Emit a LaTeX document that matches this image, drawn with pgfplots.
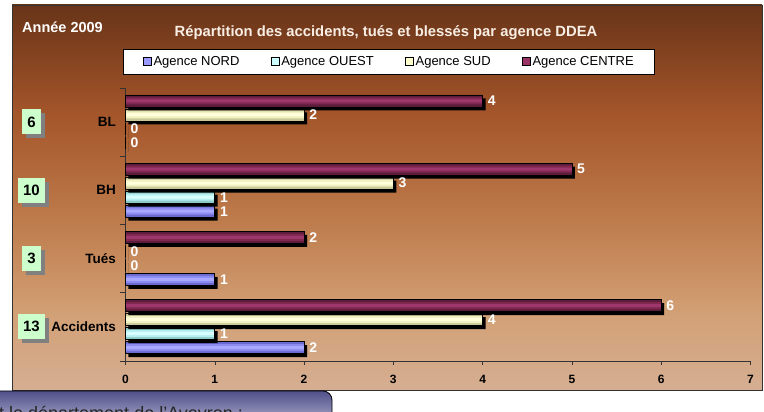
\documentclass[border=0pt]{standalone}
\usepackage{fontspec}
\setmainfont{Liberation Sans}
\usepackage{pgfplots}
\usepackage{pgfplotstable}
\pgfplotsset{compat=1.18}
\definecolor{nordD}{HTML}{6A6AD0}\definecolor{nordM}{HTML}{8C8CF0}\definecolor{nordL}{HTML}{A8A8FF}
\definecolor{ouestD}{HTML}{8CCACA}\definecolor{ouestM}{HTML}{B8F0F0}\definecolor{ouestL}{HTML}{D8FFFF}
\definecolor{sudD}{HTML}{C8C898}\definecolor{sudM}{HTML}{F0F0C0}\definecolor{sudL}{HTML}{FFFFDC}
\definecolor{centreD}{HTML}{5E1C3C}\definecolor{centreM}{HTML}{80284F}\definecolor{centreL}{HTML}{9E386C}
\definecolor{nord}{HTML}{9999FF}\definecolor{ouest}{HTML}{CCFFFF}
\definecolor{sud}{HTML}{FFFFCC}\definecolor{centre}{HTML}{993366}
\definecolor{bg1}{HTML}{D5AE92}\definecolor{bg2}{HTML}{D2A075}
\definecolor{bg3}{HTML}{BD7A4A}\definecolor{bg4}{HTML}{A4552A}
\definecolor{bg5}{HTML}{683418}
\definecolor{boxT}{HTML}{50508A}\definecolor{boxB}{HTML}{C4C4DE}
\definecolor{titlecol}{HTML}{F8EEE4}
\pgfdeclareverticalshading{bgshade}{100bp}{color(0bp)=(bg1); color(25bp)=(bg1); color(35bp)=(bg2); color(47.5bp)=(bg3); color(61bp)=(bg4); color(75bp)=(bg5); color(100bp)=(bg5)}
\pgfplotstableread{
cat NORD OUEST SUD CENTRE
0 2 1 4 6
1 1 0 0 2
2 1 1 3 5
3 0 0 2 4
}\datatab
\begin{document}
\begin{tikzpicture}[x=1pt,y=1pt]
\useasboundingbox (0,0) rectangle (764,412);
\fill[white] (0,0) rectangle (764,412);
\shade[shading=bgshade] (12,22) rectangle (762,407);
\draw[line width=0.8pt, color=black!80] (12,22) rectangle (762,407);
\shade[top color=boxT, bottom color=boxB, rounded corners=9pt] (-10,-20) rectangle (332,21);
\draw[line width=0.8pt, black, rounded corners=9pt] (-10,-20) rectangle (332,21);
\node[anchor=base west, font=\fontsize{18}{20}\selectfont, text=black!85, inner sep=0pt] at (-1,-8) {t le département de l'Aveyron :};
\node[anchor=west, font=\bfseries\fontsize{14.5}{16}\selectfont, text=white, inner sep=0pt] at (22,384.5) {Année 2009};
\node[font=\bfseries\fontsize{14.8}{16}\selectfont, text=titlecol, inner sep=0pt] at (386,379.5) {Répartition des accidents, tués et blessés par agence DDEA};
\begin{axis}[
  at={(140.5,75)}, anchor=south west,
  scale only axis, width=625pt, height=273pt,
  xmin=0, xmax=7, ymin=-0.5, ymax=3.5,
  axis x line=bottom, axis y line=left,
  axis line style={-, draw=black!80, line width=0.6pt},
  xtick={0,...,7}, tick align=outside, major tick length=4pt,
  xtick style={draw=black!80},
  ytick={0,1,2,3}, yticklabels={Accidents,Tués,BH,BL},
  major y tick style={draw=none},
  minor ytick={-0.5,0.5,1.5,2.5,3.5}, minor tick length=5pt,
  minor y tick style={draw=black!80},
  /pgf/number format/assume math mode=true,
  xticklabel style={font=\bfseries\fontsize{12}{13}\selectfont, yshift=-6.5pt},
  yticklabel style={font=\bfseries\fontsize{13.5}{15}\selectfont, xshift=-2pt},
  clip=false,
  legend columns=4,
  legend style={at={(-0.0032,1.1429)}, anchor=north west, draw=black, line width=0.6pt, fill=white,
    font=\fontsize{13}{15}\selectfont, inner ysep=5.5pt, inner xsep=19pt,
    /tikz/every even column/.append style={column sep=29pt}},
  legend image code/.code={\draw[draw=black, line width=0.8pt, #1] (0pt,-4pt) rectangle (8pt,4pt);},
  bbase/.style={xbar, forget plot, draw=none},
  vlab/.style={nodes near coords, every node near coord/.style={anchor=west, text=white, font=\bfseries\fontsize{14}{14}\selectfont, inner sep=1pt, xshift=4pt, yshift=#1}},
]
% NORD
\addplot[bbase, bar width=12pt, bar shift=-21pt, fill=nordD, preaction={fill=black, transform canvas={xshift=3pt, yshift=-3.5pt}}] table[x=NORD,y=cat]{\datatab};
\addplot[bbase, bar width=7pt, bar shift=-21pt, fill=nordM] table[x=NORD,y=cat]{\datatab};
\addplot[bbase, bar width=3pt, bar shift=-21pt, fill=nordL] table[x=NORD,y=cat]{\datatab};
\addplot[xbar, forget plot, bar width=12pt, bar shift=-21pt, fill=none, draw=black, line width=0.6pt, vlab=-21pt] table[x=NORD,y=cat]{\datatab};
% OUEST
\addplot[bbase, bar width=12pt, bar shift=-7pt, fill=ouestD, preaction={fill=black, transform canvas={xshift=3pt, yshift=-3.5pt}}] table[x=OUEST,y=cat]{\datatab};
\addplot[bbase, bar width=7pt, bar shift=-7pt, fill=ouestM] table[x=OUEST,y=cat]{\datatab};
\addplot[bbase, bar width=3pt, bar shift=-7pt, fill=ouestL] table[x=OUEST,y=cat]{\datatab};
\addplot[xbar, forget plot, bar width=12pt, bar shift=-7pt, fill=none, draw=black, line width=0.6pt, vlab=-7pt] table[x=OUEST,y=cat]{\datatab};
% SUD
\addplot[bbase, bar width=12pt, bar shift=7pt, fill=sudD, preaction={fill=black, transform canvas={xshift=3pt, yshift=-3.5pt}}] table[x=SUD,y=cat]{\datatab};
\addplot[bbase, bar width=7pt, bar shift=7pt, fill=sudM] table[x=SUD,y=cat]{\datatab};
\addplot[bbase, bar width=3pt, bar shift=7pt, fill=sudL] table[x=SUD,y=cat]{\datatab};
\addplot[xbar, forget plot, bar width=12pt, bar shift=7pt, fill=none, draw=black, line width=0.6pt, vlab=7pt] table[x=SUD,y=cat]{\datatab};
% CENTRE
\addplot[bbase, bar width=12pt, bar shift=21pt, fill=centreD, preaction={fill=black, transform canvas={xshift=3pt, yshift=-3.5pt}}] table[x=CENTRE,y=cat]{\datatab};
\addplot[bbase, bar width=7pt, bar shift=21pt, fill=centreM] table[x=CENTRE,y=cat]{\datatab};
\addplot[bbase, bar width=3pt, bar shift=21pt, fill=centreL] table[x=CENTRE,y=cat]{\datatab};
\addplot[xbar, forget plot, bar width=12pt, bar shift=21pt, fill=none, draw=black, line width=0.6pt, vlab=21pt] table[x=CENTRE,y=cat]{\datatab};
% legend
\addlegendimage{fill=nord}\addlegendentry{Agence NORD}
\addlegendimage{fill=ouest}\addlegendentry{Agence OUEST}
\addlegendimage{fill=sud}\addlegendentry{Agence SUD}
\addlegendimage{fill=centre}\addlegendentry{Agence CENTRE}
% totals: shadow then box
\addplot[draw=none, forget plot, point meta=explicit symbolic, nodes near coords={\phantom{\pgfplotspointmeta}},
  every node near coord/.style={anchor=center, xshift=-90pt, yshift=-4pt, fill=black!50, font=\bfseries\fontsize{15}{16}\selectfont,
  minimum height=25pt, minimum width=19pt, inner xsep=5.5pt}]
  coordinates {(0,0) [13] (0,1) [3] (0,2) [10] (0,3) [6]};
\addplot[draw=none, forget plot, point meta=explicit symbolic, nodes near coords,
  every node near coord/.style={anchor=center, xshift=-94pt, fill=green!20, text=black, font=\bfseries\fontsize{15}{16}\selectfont,
  minimum height=25pt, minimum width=19pt, inner xsep=5.5pt}]
  coordinates {(0,0) [13] (0,1) [3] (0,2) [10] (0,3) [6]};
\end{axis}
\end{tikzpicture}
\end{document}
